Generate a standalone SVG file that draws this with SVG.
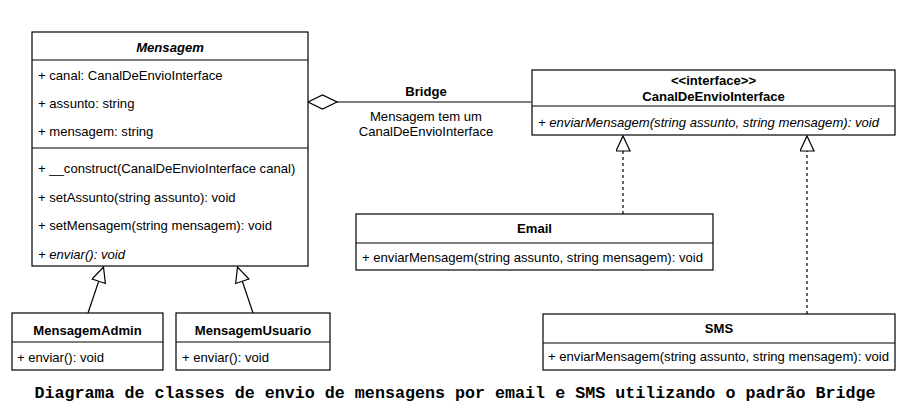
<svg xmlns="http://www.w3.org/2000/svg" width="911" height="409" viewBox="0 0 911 409">
<style>
.box{fill:#fff;stroke:#000;stroke-width:1.2}
.div{stroke:#000;stroke-width:1.2;fill:none}
.t{font-family:"Liberation Sans",Arial,sans-serif;font-size:13.1px;fill:#000}
.b{font-weight:bold}
.i{font-style:italic}
.m{text-anchor:middle}
.edge{stroke:#000;stroke-width:1.2;fill:none}
.dash{stroke-dasharray:3,3}
.cap{font-family:"Liberation Mono","Courier New",monospace;font-weight:bold;font-size:16.7px;text-anchor:middle;fill:#000}
</style>
<defs>
<marker id="tri" markerWidth="18" markerHeight="16" refX="16" refY="7.5" orient="auto" markerUnits="userSpaceOnUse">
<path d="M1,0.5 L16,7.5 L1,14.5 Z" fill="#fff" stroke="#000" stroke-width="1.2"/>
</marker>
<marker id="dia" markerWidth="32" markerHeight="18" refX="30" refY="8" orient="auto" markerUnits="userSpaceOnUse">
<path d="M1,8 L15.5,1 L30,8 L15.5,15 Z" fill="#fff" stroke="#000" stroke-width="1.2"/>
</marker>
</defs>
<g id="connectors">
<path class="edge" d="M531,102 L308,102" marker-end="url(#dia)"/>
<path class="edge" d="M88,313 L103.5,267" marker-end="url(#tri)"/>
<path class="edge" d="M253,313 L237.5,267" marker-end="url(#tri)"/>
<path class="edge dash" d="M623,214 L623,136" marker-end="url(#tri)"/>
<path class="edge dash" d="M807,314 L807,136" marker-end="url(#tri)"/>
<text class="t b m" x="426" y="96">Bridge</text>
<text class="t m" x="426" y="121">Mensagem tem um</text>
<text class="t m" x="426" y="136">CanalDeEnvioInterface</text>
</g>
<g id="Mensagem">
<rect class="box" x="32" y="32" width="276" height="234"/>
<line class="div" x1="32" y1="60" x2="308" y2="60"/>
<line class="div" x1="32" y1="148" x2="308" y2="148"/>
<text class="t b i m" x="170" y="51.5">Mensagem</text>
<text class="t" x="38" y="79.5">+ canal: CanalDeEnvioInterface</text>
<text class="t" x="38" y="107.5">+ assunto: string</text>
<text class="t" x="38" y="136">+ mensagem: string</text>
<text class="t" x="38" y="172.5">+ __construct(CanalDeEnvioInterface canal)</text>
<text class="t" x="38" y="201.5">+ setAssunto(string assunto): void</text>
<text class="t" x="38" y="230">+ setMensagem(string mensagem): void</text>
<text class="t i" x="38" y="259">+ enviar(): void</text>
</g>
<g id="CanalDeEnvioInterface">
<rect class="box" x="532" y="70" width="363" height="65"/>
<line class="div" x1="532" y1="106" x2="895" y2="106"/>
<text class="t b m" x="713.5" y="85">&lt;&lt;interface&gt;&gt;</text>
<text class="t b m" x="713.5" y="101">CanalDeEnvioInterface</text>
<text class="t i" x="538" y="127">+ enviarMensagem(string assunto, string mensagem): void</text>
</g>
<g id="Email">
<rect class="box" x="356" y="214" width="357" height="56"/>
<line class="div" x1="356" y1="243" x2="713" y2="243"/>
<text class="t b m" x="534.5" y="233">Email</text>
<text class="t" x="362" y="262">+ enviarMensagem(string assunto, string mensagem): void</text>
</g>
<g id="SMS">
<rect class="box" x="543" y="314" width="352" height="56"/>
<line class="div" x1="543" y1="343" x2="895" y2="343"/>
<text class="t b m" x="719" y="333">SMS</text>
<text class="t" x="548" y="361">+ enviarMensagem(string assunto, string mensagem): void</text>
</g>
<g id="MensagemAdmin">
<rect class="box" x="12" y="313" width="151" height="57"/>
<line class="div" x1="12" y1="342" x2="163" y2="342"/>
<text class="t b m" x="87.5" y="334.5">MensagemAdmin</text>
<text class="t" x="17" y="362">+ enviar(): void</text>
</g>
<g id="MensagemUsuario">
<rect class="box" x="176" y="313" width="154" height="57"/>
<line class="div" x1="176" y1="342" x2="330" y2="342"/>
<text class="t b m" x="253" y="334.5">MensagemUsuario</text>
<text class="t" x="182" y="362">+ enviar(): void</text>
</g>
<text class="cap" x="455" y="398">Diagrama de classes de envio de mensagens por email e SMS utilizando o padrão Bridge</text>
</svg>
